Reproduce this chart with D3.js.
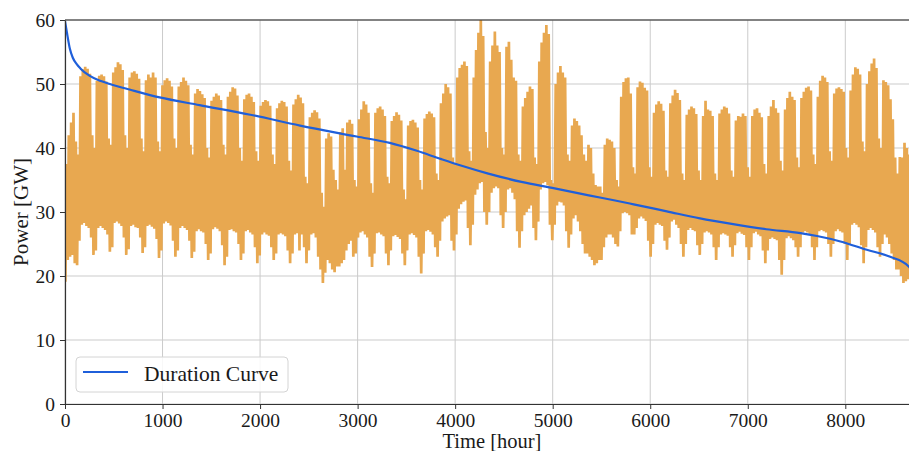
<!DOCTYPE html>
<html>
<head>
<meta charset="utf-8">
<script src="https://cdn.jsdelivr.net/npm/d3@7"></script>
<style>
  html, body { margin: 0; padding: 0; background: #ffffff; }
  svg { display: block; }
  text { font-family: "Liberation Serif", "Times New Roman", serif; fill: #1a1a1a; }
</style>
</head>
<body>
<svg id="chart" width="909" height="451"></svg>
<script>
// ---------------- data ----------------
const xTicks = [0, 1000, 2000, 3000, 4000, 5000, 6000, 7000, 8000];
const yTicks = [0, 10, 20, 30, 40, 50, 60];
const xLabel = "Time [hour]";
const yLabel = "Power [GW]";
const legendLabel = "Duration Curve";

// daily peak load [GW], day 0..364 (rows: Sat..Fri weeks after the first 4 days)
const peakGW = [
  37.5, 42.0, 44.0, 45.5,
  41.0, 39.0, 51.2, 52.3, 52.7, 52.4, 51.6,
  42.0, 40.0, 50.5, 51.3, 51.5, 51.2, 50.4,
  41.5, 40.5, 51.8, 52.6, 53.4, 53.1, 52.2,
  42.0, 40.0, 51.0, 51.8, 52.0, 51.6, 50.8,
  41.5, 39.5, 50.6, 51.5, 51.0, 51.8, 51.0,
  41.0, 39.5, 49.8, 50.6, 50.9, 50.5, 49.6,
  41.5, 40.0, 49.6, 50.3, 51.0, 50.5, 49.8,
  40.5, 39.0, 48.5, 49.2, 48.9, 48.4, 47.8,
  40.0, 38.5, 47.4, 48.0, 48.5, 48.2, 47.5,
  40.5, 39.0, 48.0, 48.8, 49.5, 49.3, 48.2,
  40.0, 38.0, 47.6, 48.3, 48.5, 48.0, 47.2,
  39.5, 38.0, 46.6, 47.2, 47.5, 47.3, 46.6,
  39.0, 37.5, 46.2, 47.0, 47.4, 47.2, 46.5,
  38.0, 36.5, 46.8, 47.6, 48.3, 47.9, 47.0,
  35.5, 34.5, 44.8, 45.5, 45.9, 45.6, 44.6,
  33.0, 30.8, 41.5, 42.3, 41.8, 36.6, 35.0,
  33.5, 42.5, 43.1, 36.6, 44.0, 44.4, 43.8,
  35.0, 34.0, 44.5, 46.0, 47.3, 46.8, 45.5,
  34.5, 33.0, 45.5, 46.2, 46.5, 46.0, 45.0,
  35.5, 34.5, 44.2, 45.0, 45.6, 45.2, 44.3,
  33.5, 32.0, 43.5, 44.2, 44.4, 44.0, 43.2,
  35.0, 33.5, 44.6, 45.3, 45.7, 45.4, 44.8,
  36.0, 35.0, 47.0, 48.5, 50.0, 49.5, 48.5,
  38.5, 37.5, 51.0, 52.5, 53.0, 53.5, 52.8,
  39.5, 38.0, 51.0, 55.3, 58.0, 60.0, 57.5,
  42.5, 40.0, 53.5, 56.0, 58.2, 56.0, 55.0,
  40.0, 39.0, 55.8, 56.6, 53.8, 51.0, 50.5,
  39.0, 38.0, 46.5, 47.8, 48.8, 49.6, 49.2,
  38.5, 37.5, 53.5, 56.5, 58.0, 59.2, 57.8,
  35.0, 34.5, 50.0, 51.8, 52.8, 51.8, 51.0,
  39.0, 38.0, 43.5, 44.6, 44.2, 43.5, 42.0,
  39.0, 38.0, 40.5, 40.0, 36.0, 34.2, 34.0,
  34.0, 33.0, 40.5, 41.5, 41.3, 41.0, 40.0,
  35.0, 34.0, 48.0, 50.3, 50.9, 51.0, 48.5,
  37.0, 36.0, 49.5, 50.4, 50.2, 49.4, 49.0,
  37.0, 35.5, 45.5, 46.8, 47.3, 46.9, 45.8,
  36.5, 35.5, 47.0, 48.2, 49.1, 48.6, 47.5,
  36.0, 35.0, 45.2, 46.0, 46.5, 46.2, 45.3,
  36.5, 35.0, 45.0, 47.4, 46.0, 45.8, 45.0,
  36.0, 35.0, 45.4, 46.0, 46.5, 46.3, 45.4,
  36.5, 35.5, 44.3, 45.0, 44.9, 45.4, 45.0,
  37.0, 35.5, 45.0, 46.0, 46.2, 45.5, 44.8,
  37.5, 36.0, 45.0, 46.5, 47.5, 46.2, 45.5,
  38.0, 36.5, 46.0, 47.8, 48.8, 48.0, 47.5,
  38.5, 37.0, 47.8, 48.8, 49.4, 49.6, 49.0,
  39.0, 37.5, 48.0, 50.5, 51.3, 51.0, 50.3,
  39.5, 38.0, 48.5, 49.3, 49.5, 49.2, 48.8,
  40.0, 38.5, 49.0, 51.5, 52.6, 52.4, 51.5,
  41.0, 39.5, 50.0, 52.0, 53.2, 54.0, 52.5,
  41.5, 40.0, 50.6, 50.3, 49.8, 47.6, 44.5,
  38.5, 36.0, 38.6, 38.5, 40.8, 40.0, 39.0,
  36.0, 34.0, 33.0, 32.0
];

// daily minimum load [GW], day 0..364
const lowGW = [
  19.1, 22.5, 23.0, 23.3,
  22.0, 21.7, 25.5, 28.0, 28.3, 27.8, 27.5,
  26.0, 23.3, 24.0, 27.5, 27.8, 27.5, 27.2,
  26.5, 23.8, 24.5, 28.3, 28.5, 28.2, 27.8,
  26.0, 23.3, 24.2, 27.8, 28.0, 27.6, 27.5,
  26.0, 23.6, 24.5, 27.8, 28.0, 27.7, 27.4,
  25.8, 22.8, 24.0, 28.2, 28.5, 28.3, 27.9,
  25.5, 23.0, 24.0, 27.5, 27.8, 27.5, 27.2,
  25.5, 22.8, 23.8, 27.0, 27.3, 27.0, 26.8,
  25.0, 22.5, 23.5, 27.3, 27.6, 27.4, 27.0,
  24.8, 21.7, 23.0, 27.2, 27.3, 27.0, 26.8,
  25.0, 22.5, 23.5, 27.0, 27.2, 26.8, 26.5,
  24.5, 22.0, 23.2, 26.5, 26.8, 26.5, 26.3,
  24.5, 22.5, 23.5, 26.5, 26.7, 26.5, 26.2,
  24.0, 22.0, 23.5, 26.5, 26.7, 24.0, 26.5,
  24.5, 22.0, 24.0, 26.5, 26.7, 26.0, 23.0,
  21.0, 18.9, 20.5, 22.5, 22.0, 21.0, 20.6,
  21.5, 21.5, 22.0, 22.5, 24.0, 25.0, 25.5,
  23.0, 23.5, 26.0, 26.8, 27.0, 26.5, 26.0,
  23.0, 21.4, 23.5, 26.7, 26.8, 26.5, 26.2,
  23.5, 21.7, 24.0, 26.2, 26.4, 26.1, 25.8,
  23.5, 21.7, 24.0, 26.5, 26.7, 26.4, 26.0,
  23.0, 20.4, 23.5, 27.0, 27.2, 26.9, 26.5,
  24.5, 23.0, 25.5, 28.5, 29.0, 29.3, 29.5,
  25.5, 24.0, 26.5, 30.5, 31.2, 31.6, 31.8,
  27.5, 24.8, 28.0, 32.7, 33.5, 34.5, 34.7,
  30.0, 28.0, 30.0, 33.0, 33.7, 34.0, 33.7,
  29.5, 27.5, 30.0, 33.5, 33.7, 33.0, 32.0,
  27.0, 24.4, 27.0, 29.5, 30.0, 30.5, 31.0,
  27.5, 25.6, 28.5, 33.5, 34.5, 34.7, 34.2,
  28.0, 25.6, 28.0, 31.0, 31.6, 31.5, 31.0,
  27.0, 24.4, 26.5, 29.0, 29.5, 28.5, 27.0,
  25.0, 23.5, 23.5, 23.0, 22.5, 21.7, 22.0,
  22.5, 22.5, 24.5, 26.0, 26.5, 26.5, 26.0,
  25.0, 24.6, 27.0, 29.8, 30.0, 29.8, 29.5,
  26.5, 26.5, 27.5, 29.0, 29.3, 29.0, 28.6,
  25.5, 23.0, 25.0, 28.0, 28.3, 28.0, 27.8,
  25.5, 24.1, 26.0, 28.5, 28.8, 28.0, 27.5,
  25.0, 23.0, 25.0, 27.2, 27.5, 27.2, 27.0,
  24.8, 23.3, 25.0, 26.8, 27.0, 26.8, 26.5,
  24.5, 22.5, 24.5, 26.5, 26.7, 26.5, 26.3,
  24.5, 23.0, 24.8, 26.7, 26.9, 26.6, 26.4,
  24.5, 22.5, 24.5, 26.7, 26.9, 26.5, 26.2,
  24.0, 22.0, 24.0, 25.8, 26.0, 25.8, 25.6,
  22.5, 20.2, 22.5, 25.9, 26.2, 25.9, 25.6,
  24.5, 23.0, 24.5, 26.8, 27.0, 26.8, 26.5,
  24.5, 22.5, 24.5, 27.0, 27.2, 27.0, 26.8,
  25.0, 23.0, 25.0, 27.0, 27.3, 27.0, 26.8,
  25.0, 22.5, 25.0, 28.0, 28.3, 28.0, 27.6,
  24.8, 22.0, 24.5, 27.2, 27.5, 27.2, 26.8,
  24.5, 23.0, 25.0, 26.5, 26.0, 25.0, 23.5,
  22.5, 21.0, 21.0, 20.0, 18.9, 19.2, 19.5,
  19.0, 18.5, 18.8, 19.2
];

// load duration curve (sorted load) sampled at hours
const durationHours = [0, 20, 50, 80, 120, 160, 250, 360, 460, 670, 970, 1380, 1900, 2410, 2990, 3330, 3600, 3850, 4050, 4340, 4680, 5020, 5370, 5640, 5830, 6170, 6510, 6850, 7190, 7540, 7710, 7950, 8220, 8460, 8650, 8760];
const durationGW    = [59.8, 58.0, 55.5, 54.1, 53.1, 52.4, 51.3, 50.5, 50.0, 49.1, 47.9, 46.7, 45.2, 43.5, 41.8, 40.8, 39.6, 38.3, 37.3, 36.0, 34.7, 33.7, 32.6, 31.8, 31.2, 30.1, 29.0, 28.1, 27.3, 26.7, 26.25, 25.4, 24.1, 23.0, 21.5, 18.5];

// ---------------- chart ----------------
const svg = d3.select("#chart");
const pL = 65, pR = 909, pT = 20, pB = 404;

const x = d3.scaleLinear().domain([0, 8653]).range([pL, pR]);
const y = d3.scaleLinear().domain([0, 60]).range([pB, pT]);

svg.append("rect").attr("width", 909).attr("height", 451).attr("fill", "#ffffff");

svg.append("defs").append("clipPath").attr("id", "plotClip")
  .append("rect").attr("x", pL).attr("y", pT - 1)
  .attr("width", pR - pL).attr("height", pB - pT + 1);

// grid
const grid = svg.append("g").attr("stroke", "#cbcbcb").attr("stroke-width", 1);
grid.selectAll("line.vx").data(xTicks).join("line").attr("class", "vx")
  .attr("x1", d => x(d)).attr("x2", d => x(d)).attr("y1", pT).attr("y2", pB);
grid.selectAll("line.hy").data(yTicks).join("line").attr("class", "hy")
  .attr("x1", pL).attr("x2", pR).attr("y1", d => y(d)).attr("y2", d => y(d));

// hourly-resolution load drawn from daily min / peak values
const loadPoints = [];
peakGW.forEach((p, d) => {
  loadPoints.push({ h: d * 24 + 4, v: lowGW[d] });
  loadPoints.push({ h: d * 24 + 15, v: p });
});

const plot = svg.append("g").attr("clip-path", "url(#plotClip)");
plot.append("path")
  .datum(loadPoints)
  .attr("fill", "none")
  .attr("stroke", "#E8A850")
  .attr("stroke-width", 2.7)
  .attr("stroke-linejoin", "bevel")
  .attr("d", d3.line().x(d => x(d.h)).y(d => y(d.v)));

const durData = durationHours.map((h, i) => ({ h, v: durationGW[i] }));
plot.append("path")
  .datum(durData)
  .attr("fill", "none")
  .attr("stroke", "#1F5FDA")
  .attr("stroke-width", 2.2)
  .attr("d", d3.line().curve(d3.curveMonotoneX).x(d => x(d.h)).y(d => y(d.v)));

// axes
const xAxis = svg.append("g").attr("transform", `translate(0,${pB})`)
  .call(d3.axisBottom(x).tickValues(xTicks).tickSize(5).tickSizeOuter(0).tickPadding(4).tickFormat(d3.format("d")));
const yAxis = svg.append("g").attr("transform", `translate(${pL},0)`)
  .call(d3.axisLeft(y).tickValues(yTicks).tickSize(5).tickSizeOuter(0).tickPadding(5).tickFormat(d3.format("d")));
[xAxis, yAxis].forEach(a => {
  a.select(".domain").attr("stroke", "#333333").attr("stroke-width", 1.2);
  a.selectAll(".tick line").attr("stroke", "#333333");
  a.selectAll(".tick text").attr("font-size", "19.5px").attr("fill", "#1a1a1a")
    .attr("font-family", "'Liberation Serif', 'Times New Roman', serif");
});
// top spine
svg.append("line").attr("x1", pL).attr("x2", pR).attr("y1", pT).attr("y2", pT)
  .attr("stroke", "#222222").attr("stroke-width", 1.2);

// axis labels
svg.append("text").attr("x", 492).attr("y", 448).attr("text-anchor", "middle")
  .attr("font-size", "20.5px").text(xLabel);
svg.append("text").attr("transform", `translate(28,${(pT + pB) / 2}) rotate(-90)`)
  .attr("text-anchor", "middle").attr("font-size", "21px").text(yLabel);

// legend
const lg = svg.append("g");
lg.append("rect").attr("x", 76).attr("y", 357).attr("width", 212).attr("height", 35)
  .attr("rx", 4).attr("fill", "#ffffff").attr("fill-opacity", 0.85)
  .attr("stroke", "#d4d4d4").attr("stroke-width", 1);
lg.append("line").attr("x1", 83).attr("x2", 128).attr("y1", 372).attr("y2", 372)
  .attr("stroke", "#1F5FDA").attr("stroke-width", 2.2);
lg.append("text").attr("x", 144).attr("y", 381).attr("font-size", "21.5px").text(legendLabel);
</script>
</body>
</html>
